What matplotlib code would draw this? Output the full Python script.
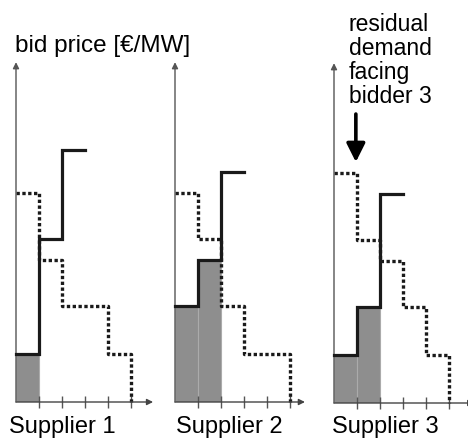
import matplotlib.pyplot as plt

plt.rcParams['font.family'] = ['Liberation Sans', 'DejaVu Sans']

# price levels (1 unit ~ one step of the lowest bid)
supply_x = [0, 1, 2, 3]

supply1 = [1.0, 3.4, 5.25]
demand1_x = [0, 1, 2, 4, 5]
demand1 = [4.35, 2.95, 2.0, 1.0]

supply2 = [2.0, 2.95, 4.8]
demand2_x = [0, 1, 2, 3, 5]
demand2 = [4.35, 3.4, 2.0, 1.0]

supply3 = [1.0, 2.0, 4.35]
demand3_x = [0, 1, 2, 3, 4, 5]
demand3 = [4.8, 3.4, 2.95, 2.0, 1.0]

accepted = [1, 2, 2]          # units dispatched for each supplier
labels = ['Supplier 1', 'Supplier 2', 'Supplier 3']

panels = [(supply1, demand1_x, demand1),
          (supply2, demand2_x, demand2),
          (supply3, demand3_x, demand3)]

W, H = 468, 439
fig = plt.figure(figsize=(W / 100, H / 100), dpi=100)

origin_x = [16, 175, 334]     # pixel position of each origin
origin_y = [403, 403, 404]
x_end = [5.96, 5.65, 6.1]
ux, uy = 23, 48               # pixels per unit
ymax = 7.08
label_x = [62, 229, 385]

for i, (s, dx, d) in enumerate(panels):
    ax = fig.add_axes([origin_x[i] / W, (H - origin_y[i]) / H,
                       6 * ux / W, ymax * uy / H])
    ax.set_xlim(0, 6)
    ax.set_ylim(0, ymax)
    for sp in ax.spines.values():
        sp.set_visible(False)
    ax.set_yticks([])
    ax.set_xticks([1, 2, 3, 4, 5])
    ax.set_xticklabels([])
    ax.tick_params(axis='x', direction='inout', length=9, width=1, color='#555555')
    ax.patch.set_alpha(0)

    # axes with arrow heads
    ax.annotate('', xy=(x_end[i], 0), xytext=(0, 0), annotation_clip=False,
                arrowprops=dict(arrowstyle='-|>', color='#444444', lw=1,
                                mutation_scale=9, shrinkA=0, shrinkB=0))
    ax.annotate('', xy=(0, ymax), xytext=(0, 0), annotation_clip=False,
                arrowprops=dict(arrowstyle='-|>', color='#555555', lw=1,
                                mutation_scale=9, shrinkA=0, shrinkB=0))

    n = accepted[i]
    ax.bar(supply_x[:n], s[:n], width=1, align='edge', color='#8e8e8e',
           edgecolor='#ababab', linewidth=0.8, zorder=1)

    ax.step(dx, d + [0], where='post', color='#1a1a1a', lw=2.4,
            linestyle=(0, (1, 0.75)), clip_on=False, zorder=2)
    ax.step(supply_x, s + [s[-1]], where='post', color='#1a1a1a', lw=2.3,
            solid_joinstyle='miter', clip_on=False, zorder=3)

    fig.text(label_x[i] / W, 1 - 433 / H, labels[i], ha='center',
             va='baseline', fontsize=17)

    if i == 2:
        ax.annotate('', xy=(0.95, 5.02), xytext=(0.95, 6.02),
                    arrowprops=dict(arrowstyle='-|>', color='black', lw=2.6,
                                    mutation_scale=28, shrinkA=0, shrinkB=0))

fig.text(15 / W, 1 - 52 / H, 'bid price [€/MW]', ha='left', va='baseline',
         fontsize=17.5)
fig.text(349 / W, 1 - 13 / H, 'residual\ndemand\nfacing\nbidder 3',
         ha='left', va='top', fontsize=16.5, linespacing=1.06)

fig.savefig('out.png', dpi=100)
